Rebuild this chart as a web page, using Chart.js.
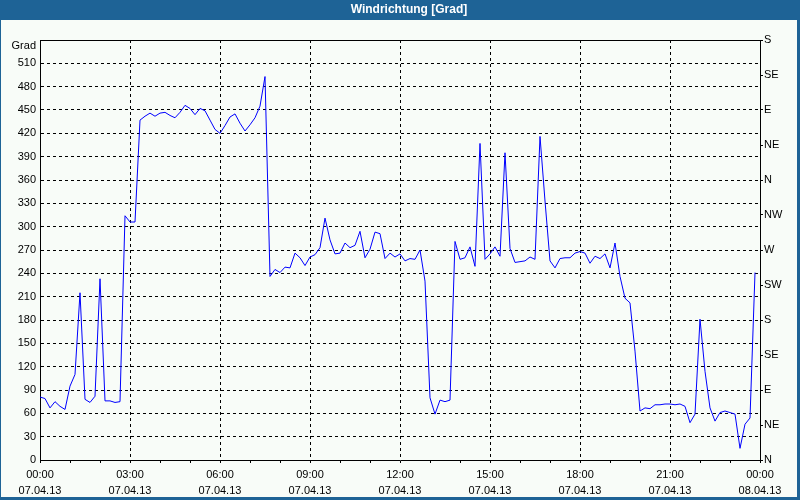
<!DOCTYPE html>
<html>
<head>
<meta charset="utf-8">
<title>Windrichtung [Grad]</title>
<script src="https://cdn.jsdelivr.net/npm/chart.js@4.4.1/dist/chart.umd.min.js"></script>
<style>
  html, body { margin: 0; padding: 0; background: #ffffff; }
  canvas { display: block; }
</style>
</head>
<body>
<canvas id="windChart" width="800" height="500"></canvas>
<script>
// Windrichtung 07.04.13 - one reading every 10 minutes (00:00 .. 23:50)
const stepMinutes = 10;

const windDir = [
    81, 79, 67, 75, 69, 65, 95, 110, 215, 78, 74, 82,
    233, 76, 76, 74, 75, 314, 306, 306, 437, 442, 446, 442,
    446, 447, 443, 440, 447, 456, 452, 444, 452, 449, 437, 425,
    420, 430, 441, 445, 433, 423, 431, 440, 455, 493, 236, 245,
    241, 248, 247, 266, 260, 250, 261, 264, 273, 311, 283, 265,
    266, 279, 273, 276, 294, 260, 271, 293, 291, 259, 266, 261,
    265, 256, 259, 258, 270, 230, 80, 59, 77, 75, 77, 281,
    258, 260, 274, 249, 407, 258, 265, 274, 262, 395, 272, 254,
    255, 256, 261, 258, 416, 333, 256, 247, 259, 260, 260, 266,
    268, 266, 253, 262, 259, 265, 247, 279, 236, 208, 202, 140,
    63, 67, 66, 71, 71, 72, 72, 71, 72, 69, 48, 59,
    181, 114, 67, 50, 61, 63, 61, 59, 15, 46, 54, 241
];

const timeLabels = ["00:00", "03:00", "06:00", "09:00", "12:00", "15:00", "18:00", "21:00", "00:00"];
const dateLabels = ["07.04.13", "07.04.13", "07.04.13", "07.04.13", "07.04.13", "07.04.13", "07.04.13", "07.04.13", "08.04.13"];
const dirLabels = ["N", "NE", "E", "SE", "S", "SW", "W", "NW", "N", "NE", "E", "SE", "S"];

const frameBlue = "#1E6396";
const panelColor = "#F8FCF8";

Chart.defaults.font.family = "'Liberation Sans', Arial, sans-serif";
Chart.defaults.font.size = 11;
Chart.defaults.color = "#000000";

// blue window frame + light panel behind the chart
const windowFrame = {
    id: "windowFrame",
    beforeDraw(chart) {
        const c = chart.ctx;
        c.save();
        c.fillStyle = frameBlue;
        c.fillRect(0, 0, chart.width, chart.height);
        c.fillStyle = panelColor;
        c.fillRect(1, 20, chart.width - 4, chart.height - 23);
        c.restore();
    }
};

const ctx = document.getElementById("windChart").getContext("2d");

const windChart = new Chart(ctx, {
    type: "line",
    data: {
        datasets: [{
            label: "Windrichtung",
            data: windDir.map((v, i) => ({ x: i * stepMinutes, y: v })),
            borderColor: "#0000FF",
            borderWidth: 1,
            pointRadius: 0,
            tension: 0,
            fill: false
        }]
    },
    options: {
        responsive: false,
        animation: false,
        devicePixelRatio: 1,
        // right padding < 0 moves the title's centre a little to the right, like the original
        layout: {
            padding: { left: 0, right: -18, top: 0, bottom: 0 }
        },
        plugins: {
            legend: { display: false },
            tooltip: { enabled: false },
            title: {
                display: true,
                text: "Windrichtung [Grad]",
                color: "#ffffff",
                font: { size: 12, weight: "bold", lineHeight: "14px" },
                padding: { top: 3, bottom: 23 }
            }
        },
        scales: {
            x: {
                type: "linear",
                min: 0,
                max: 1440,
                afterFit: (s) => { s.height = 40; },
                ticks: {
                    stepSize: 60,
                    maxTicksLimit: 100,
                    autoSkip: false,
                    maxRotation: 0,
                    padding: 4,
                    font: { size: 11, lineHeight: "16px" },
                    callback: (v) => {
                        if (v % 180 !== 0) return "";
                        const i = v / 180;
                        return [timeLabels[i], dateLabels[i]];
                    }
                },
                grid: {
                    color: (c) => (c.tick && c.tick.value % 180 === 0) ? "#000000" : "rgba(0,0,0,0)",
                    tickColor: "#000000",
                    tickLength: 3
                },
                border: { color: "#000000", dash: [3, 3] }
            },
            y: {
                position: "left",
                min: 0,
                max: 540,
                afterFit: (s) => { s.width = 40; },
                ticks: {
                    stepSize: 30,
                    maxTicksLimit: 100,
                    autoSkip: false,
                    padding: 4,
                    font: { size: 11, lineHeight: "11px" },
                    callback: (v) => v === 540 ? ["", "Grad"] : v
                },
                grid: {
                    color: "#000000",
                    drawTicks: false
                },
                border: {
                    color: "#000000",
                    dash: (c) => (c.tick && c.tick.value === 540) ? [] : [3, 3]
                }
            },
            y2: {
                position: "right",
                min: 0,
                max: 540,
                afterFit: (s) => { s.width = 58; },
                ticks: {
                    stepSize: 45,
                    maxTicksLimit: 100,
                    autoSkip: false,
                    padding: 1,
                    callback: (v) => dirLabels[Math.round(v / 45)]
                },
                grid: {
                    drawOnChartArea: false,
                    color: "#000000",
                    tickLength: 3
                },
                border: { color: "#000000" }
            }
        }
    },
    plugins: [windowFrame]
});
</script>
</body>
</html>
